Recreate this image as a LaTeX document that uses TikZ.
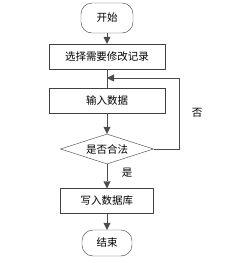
\documentclass[tikz,border=0pt]{standalone}
\usepackage{fontspec}
\setmainfont{Noto Sans CJK SC}
\usetikzlibrary{shapes.geometric,arrows.meta}
\begin{document}
\begin{tikzpicture}[x=1pt,y=-1pt,
		every node/.style={font=\fontsize{10.5}{12}\selectfont},
		terminal/.style={draw=black!75, rounded corners=11pt, minimum width=52pt, minimum height=30pt, inner sep=0pt},
		procbox/.style={draw=black!75, rectangle, minimum height=25pt, inner sep=0pt},
		decision/.style={draw=black!75, diamond, aspect=3.1, minimum width=93pt, minimum height=30pt, inner sep=0pt},
		flow/.style={draw=black!70, -{Triangle[length=7pt,width=7pt]}}]
		
		% Fix the picture size
		\useasboundingbox (0,0) rectangle (236,263);
		
		% Define the nodes of the flow chart
		\node[terminal] (start) at (107, 18) {开始};
		\node[procbox, minimum width=116pt] (select) at (107, 56.5) {选择需要修改记录};
		\node[procbox, minimum width=116pt] (input) at (107, 100.5) {输入数据};
		\node[decision] (check) at (107, 149) {是否合法};
		\node[procbox, minimum width=93pt] (write) at (107, 201) {写入数据库};
		\node[terminal, minimum width=50pt, minimum height=26pt] (stop) at (107, 243) {结束};
		
		% Corner points of the loop back
		\coordinate (join) at (107, 78);
		\coordinate (turn) at (179, 78);
		
		% Draw the connectors
		\draw[flow] (start) -- (select);
		\draw[draw=black!70] (select) -- (join);
		\draw[flow] (input) -- (check);
		\draw[flow] (check) -- (write);
		\draw[flow] (write) -- (stop);
		\draw[flow] (check.east) -| (turn) -- (join);
		\draw[draw=black!70] (join) -- (input);
		
		% Label the branches
		\node at (197, 113) {否};
		\node at (127, 173) {是};
		
\end{tikzpicture}
\end{document}
